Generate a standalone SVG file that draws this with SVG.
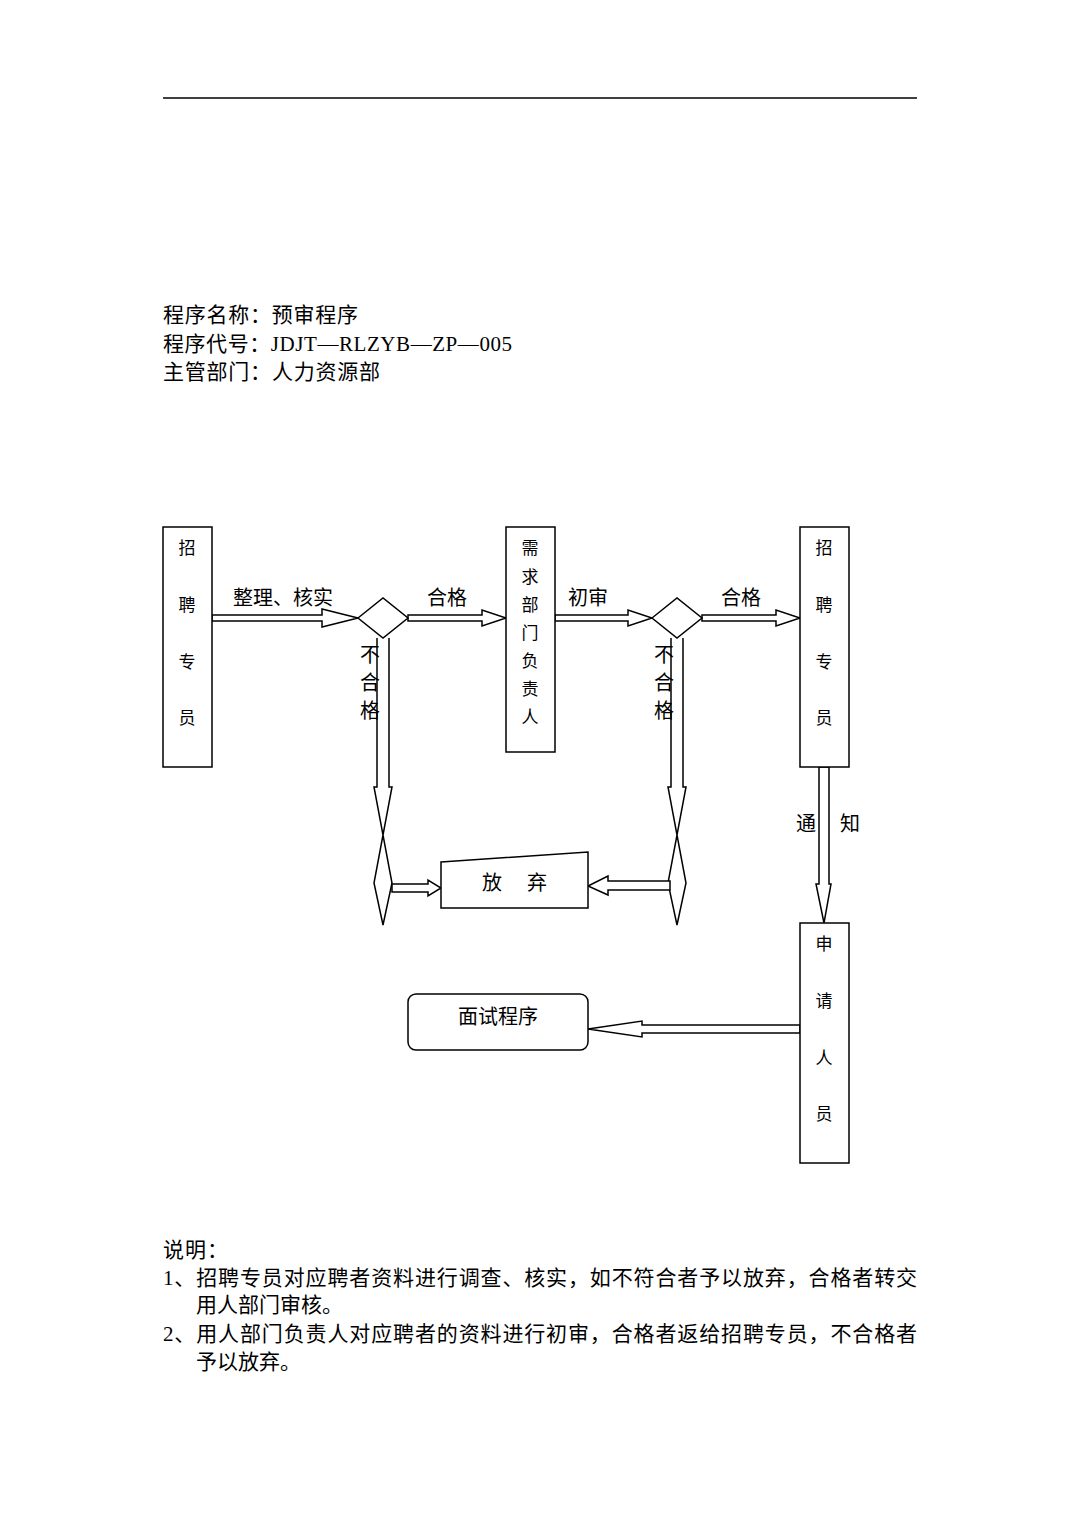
<svg xmlns="http://www.w3.org/2000/svg" width="1080" height="1527" viewBox="0 0 1080 1527">
<style>
.b{fill:#fff;stroke:#000;stroke-width:1.5}
.l{fill:none;stroke:#000;stroke-width:1.5}
text{font-family:"Liberation Serif","Noto Sans CJK SC",serif;fill:#000}
.t{font-size:21px}
.v{font-size:17px;text-anchor:middle;dominant-baseline:central}
.c{font-size:20px;text-anchor:middle;dominant-baseline:central}
</style>
<rect width="1080" height="1527" fill="#fff"/>
<line x1="163" y1="98" x2="917" y2="98" stroke="#000" stroke-width="1.5"/>
<text class="t" x="163" y="322" textLength="195">程序名称：预审程序</text>
<text class="t" x="163" y="351" textLength="349">程序代号：JDJT—RLZYB—ZP—005</text>
<text class="t" x="163" y="379" textLength="217">主管部门：人力资源部</text>

<g id="connectors">
<polygon class="b" points="212,615 322,615 322,609 358,618 322,627 322,621 212,621"/>
<polygon class="b" points="408,615 482,615 482,610 506,618 482,626 482,621 408,621"/>
<polygon class="b" points="555,615 628,615 628,610 652,618 628,626 628,621 555,621"/>
<polygon class="b" points="702,615 776,615 776,610 800,618 776,626 776,621 702,621"/>
<polyline class="l" points="377,638 377,787 374,787 392,883 383,925 374,883 392,787 389,787 389,638"/>
<polyline class="l" points="671,638 671,787 668,787 686,883 677,925 668,883 686,787 683,787 683,638"/>
<polygon class="b" points="392,884 428,884 428,880 441,888 428,896 428,892 392,892"/>
<polygon class="b" points="670,881 608,881 608,876 588,886 608,895 608,890 670,890"/>
<polygon class="b" points="819,767 819,884 816,884 824,923 831,884 829,884 829,767"/>
<polygon class="b" points="800,1025 642,1025 642,1021 588,1029 642,1037 642,1033 800,1033"/>
<text class="c" x="283" y="598">整理、核实</text>
<text class="c" x="447" y="598">合格</text>
<text class="c" x="588" y="598">初审</text>
<text class="c" x="741" y="598">合格</text>
<text class="c" x="370" y="655">不</text><text class="c" x="370" y="683">合</text><text class="c" x="370" y="711">格</text>
<text class="c" x="664" y="655">不</text><text class="c" x="664" y="683">合</text><text class="c" x="664" y="711">格</text>
<text class="c" x="806" y="824">通</text><text class="c" x="850" y="824">知</text>
</g>

<g id="d1"><polygon class="b" points="358,618 383,598 408,618 383,638"/></g>
<g id="d2"><polygon class="b" points="652,618 677,598 702,618 677,638"/></g>

<g id="n1"><rect class="b" x="163" y="527" width="49" height="240"/>
<text class="v" x="187" y="548">招</text><text class="v" x="187" y="605">聘</text><text class="v" x="187" y="662">专</text><text class="v" x="187" y="718">员</text></g>
<g id="n2"><rect class="b" x="506" y="527" width="49" height="225"/>
<text class="v" x="530" y="548">需</text><text class="v" x="530" y="577">求</text><text class="v" x="530" y="605">部</text><text class="v" x="530" y="633">门</text><text class="v" x="530" y="661">负</text><text class="v" x="530" y="689">责</text><text class="v" x="530" y="717">人</text></g>
<g id="n3"><rect class="b" x="800" y="527" width="49" height="240"/>
<text class="v" x="824" y="548">招</text><text class="v" x="824" y="605">聘</text><text class="v" x="824" y="662">专</text><text class="v" x="824" y="718">员</text></g>
<g id="n4"><rect class="b" x="800" y="923" width="49" height="240"/>
<text class="v" x="824" y="944">申</text><text class="v" x="824" y="1001">请</text><text class="v" x="824" y="1058">人</text><text class="v" x="824" y="1114">员</text></g>
<g id="giveup"><polygon class="b" points="441,862 588,852 588,908 441,908"/>
<text class="c" x="492" y="883">放</text><text class="c" x="537" y="883">弃</text></g>
<g id="interview"><rect class="b" x="408" y="994" width="180" height="56" rx="8"/>
<text class="c" x="498" y="1017">面试程序</text></g>

<text class="t" x="163" y="1257" textLength="65">说明：</text>
<text class="t" x="163" y="1285" textLength="754">1、招聘专员对应聘者资料进行调查、核实，如不符合者予以放弃，合格者转交</text>
<text class="t" x="196" y="1312" textLength="147">用人部门审核。</text>
<text class="t" x="163" y="1341" textLength="754">2、用人部门负责人对应聘者的资料进行初审，合格者返给招聘专员，不合格者</text>
<text class="t" x="196" y="1369" textLength="105">予以放弃。</text>
</svg>
